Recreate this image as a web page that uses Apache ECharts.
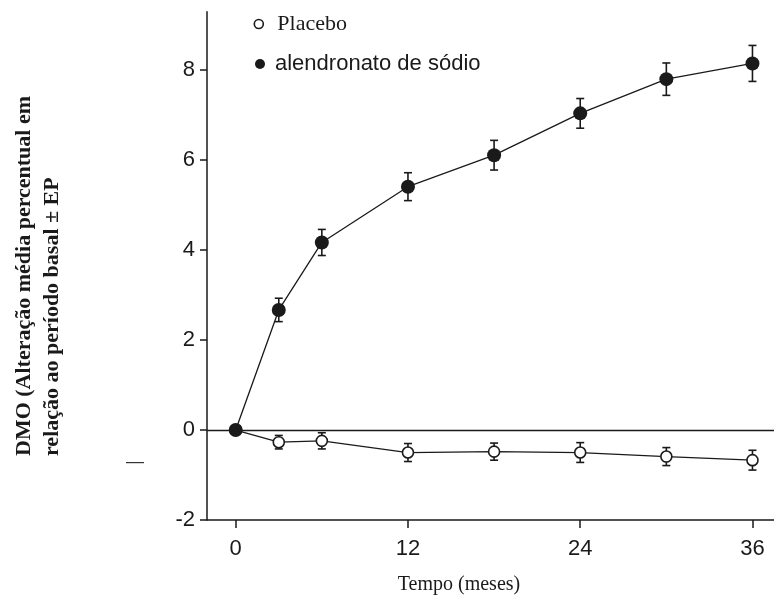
<!DOCTYPE html>
<html>
<head>
<meta charset="utf-8">
<script src="https://cdn.jsdelivr.net/npm/echarts@6/dist/echarts.min.js"></script>
<style>
html,body{margin:0;padding:0;background:#fff;}
#chart{width:774px;height:602px;}
</style>
</head>
<body>
<div id="chart"></div>
<script>
// Data
const months = [0, 3, 6, 12, 18, 24, 30, 36];
const alendronato = [0, 2.67, 4.17, 5.41, 6.11, 7.04, 7.8, 8.15];
const alendronatoErr = [0, 0.26, 0.29, 0.31, 0.33, 0.33, 0.36, 0.4];
const placebo = [0, -0.27, -0.24, -0.5, -0.48, -0.5, -0.59, -0.67];
const placeboErr = [0, 0.15, 0.18, 0.2, 0.19, 0.22, 0.2, 0.22];
const xTicks = [0, 12, 24, 36];
const yTicks = [-2, 0, 2, 4, 6, 8];
const seriesNames = ['Placebo', 'alendronato de sódio'];

const ink = '#1a1a1a';

function pairs(vals) { return months.map((m, i) => [m, vals[i]]); }
function errData(vals, errs) {
  const out = [];
  months.forEach((m, i) => { if (errs[i] > 0) out.push([m, vals[i] - errs[i], vals[i] + errs[i]]); });
  return out;
}
function errRender(params, api) {
  const x = api.value(0);
  const lo = api.coord([x, api.value(1)]);
  const hi = api.coord([x, api.value(2)]);
  const w = 4;
  const st = { stroke: ink, lineWidth: 1.6 };
  return {
    type: 'group',
    children: [
      { type: 'line', shape: { x1: lo[0], y1: lo[1], x2: hi[0], y2: hi[1] }, style: st },
      { type: 'line', shape: { x1: lo[0] - w, y1: lo[1], x2: lo[0] + w, y2: lo[1] }, style: st },
      { type: 'line', shape: { x1: hi[0] - w, y1: hi[1], x2: hi[0] + w, y2: hi[1] }, style: st }
    ]
  };
}

const chart = echarts.init(document.getElementById('chart'), null, { renderer: 'canvas' });
chart.setOption({
  animation: false,
  backgroundColor: '#fff',
  grid: { left: 207, right: 0, top: 11.7, bottom: 82, outerBoundsMode: 'none', containLabel: false },
  legend: [
    {
      left: 248.5, top: 8, padding: 5, itemWidth: 9, itemHeight: 9, selectedMode: false,
      data: [{ name: seriesNames[0], icon: 'circle',
        itemStyle: { color: '#fff', borderColor: ink, borderWidth: 1.6 },
        textStyle: { fontFamily: 'Liberation Serif', fontSize: 22, color: ink, padding: [0, 0, 0, 9] } }]
    },
    {
      left: 250, top: 48, padding: 5, itemWidth: 10, itemHeight: 10, selectedMode: false,
      data: [{ name: seriesNames[1], icon: 'circle',
        itemStyle: { color: ink, borderColor: ink, borderWidth: 0 },
        textStyle: { fontFamily: 'Liberation Sans', fontSize: 22, color: ink, padding: [0, 0, 0, 5] } }]
    }
  ],
  xAxis: {
    type: 'value', min: -2, max: 37.5,
    name: 'Tempo (meses)', nameLocation: 'middle', nameGap: 55, nameMoveOverlap: false,
    nameTextStyle: { fontFamily: 'Liberation Serif', fontSize: 20, color: ink, padding: [0, 63, 0, 0] },
    axisLine: { onZero: false, lineStyle: { color: ink, width: 1.5 } },
    axisTick: { show: true, customValues: xTicks, length: 8, lineStyle: { color: ink, width: 1.5 } },
    axisLabel: { customValues: xTicks, fontFamily: 'Liberation Sans', fontSize: 22, color: ink, margin: 18 },
    splitLine: { show: false }
  },
  yAxis: {
    type: 'value', min: -2, max: 9.3,
    axisLine: { show: true, onZero: false, lineStyle: { color: ink, width: 1.5 } },
    axisTick: { show: true, customValues: yTicks, length: 7, lineStyle: { color: ink, width: 1.5 } },
    axisLabel: { customValues: yTicks, fontFamily: 'Liberation Sans', fontSize: 22, color: ink, margin: 12 },
    splitLine: { show: false }
  },
  graphic: [
    {
      type: 'text', x: 10, y: 456, rotation: Math.PI / 2,
      style: {
        text: 'DMO (Alteração média percentual em\nrelação ao período basal ± EP',
        font: 'bold 22px "Liberation Serif"', fill: ink,
        textAlign: 'left', textVerticalAlign: 'top', lineHeight: 28
      }
    },
    {
      type: 'text', x: 126, y: 462,
      style: { text: '—', font: '18px "Liberation Sans"', fill: '#333', textAlign: 'left', textVerticalAlign: 'middle' }
    }
  ],
  series: [
    {
      type: 'custom', name: 'errP', data: errData(placebo, placeboErr), renderItem: errRender,
      encode: { x: 0, y: [1, 2] }, z: 1, silent: true
    },
    {
      type: 'custom', name: 'errA', data: errData(alendronato, alendronatoErr), renderItem: errRender,
      encode: { x: 0, y: [1, 2] }, z: 1, silent: true
    },
    {
      type: 'line', name: seriesNames[0], data: pairs(placebo), z: 3,
      symbol: 'circle', symbolSize: 11,
      lineStyle: { color: ink, width: 1.3 },
      itemStyle: { color: '#fff', borderColor: ink, borderWidth: 1.6 }
    },
    {
      type: 'line', name: seriesNames[1], data: pairs(alendronato), z: 4,
      symbol: 'circle', symbolSize: 14,
      lineStyle: { color: ink, width: 1.3 },
      itemStyle: { color: ink, borderColor: ink, borderWidth: 0 },
      markLine: {
        silent: true, symbol: 'none', animation: false,
        label: { show: false },
        lineStyle: { color: ink, width: 1.4, type: 'solid' },
        data: [{ yAxis: 0 }]
      }
    }
  ]
});
</script>
</body>
</html>
